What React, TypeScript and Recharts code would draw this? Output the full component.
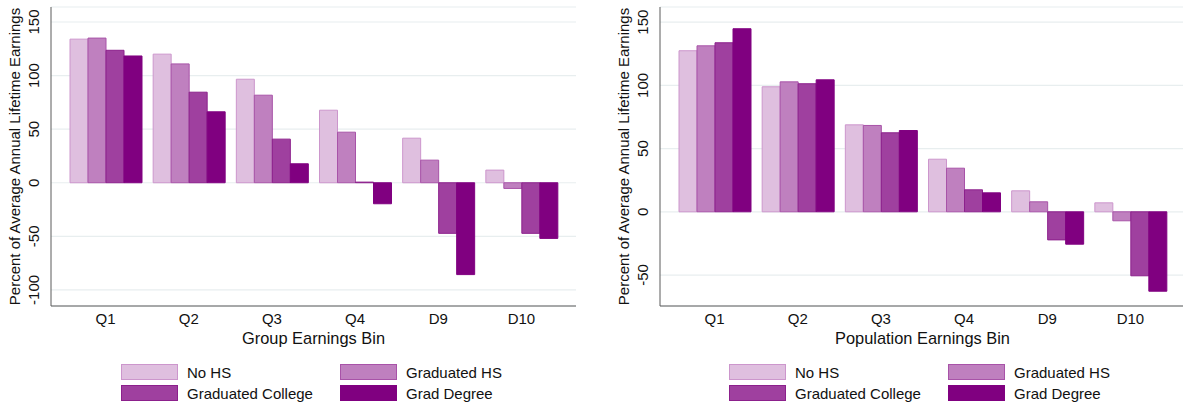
import React from "react";
import { BarChart, Bar, XAxis, YAxis, CartesianGrid, Label } from "recharts";

const categories = ["Q1", "Q2", "Q3", "Q4", "D9", "D10"];
const seriesNames = ["No HS", "Graduated HS", "Graduated College", "Grad Degree"];

// left panel: bins defined within each education group
const groupNoHS = [134, 120, 96.6, 67.7, 41.6, 11.8];
const groupGradHS = [135, 110.9, 81.7, 47.2, 21.1, -5.3];
const groupCollege = [123.6, 84.5, 40.7, 0.6, -47.2, -47.2];
const groupGradDeg = [118.3, 66.2, 17.7, -19.6, -85.7, -51.9];

// right panel: bins defined on the whole population
const popNoHS = [127.4, 98.9, 68.8, 41.6, 16.6, 7.1];
const popGradHS = [131.3, 102.8, 68.3, 34.5, 7.9, -7.1];
const popCollege = [133.7, 101.3, 62.5, 17.4, -22.2, -50.6];
const popGradDeg = [144.8, 104.4, 64.3, 15.0, -25.6, -62.8];

const groupTicks = [-100, -50, 0, 50, 100, 150];
const popTicks = [-50, 0, 50, 100, 150];

const FILLS = ["#dfbfdf", "#bf80bf", "#9f409f", "#800080"];
const STROKES = ["#cc96cc", "#a853a8", "#8c208c", "#800080"];
const FONT = "Arial, 'Liberation Sans', sans-serif";
const TEXT = "#111";
const AXIS = "#5a5a5a";
const GRID = "#e8eeef";
const KEYS = ["noHS", "gradHS", "college", "gradDeg"];

function buildRows(a: number[], b: number[], c: number[], d: number[]) {
  return categories.map((cat, i) => ({ cat, noHS: a[i], gradHS: b[i], college: c[i], gradDeg: d[i] }));
}

const groupData = buildRows(groupNoHS, groupGradHS, groupCollege, groupGradDeg);
const popData = buildRows(popNoHS, popGradHS, popCollege, popGradDeg);

const PLOT_TOP = 7;
const PLOT_BOTTOM = 306;

function YTick(props: any) {
  const { x, y, payload } = props;
  return (
    <text x={x} y={y} transform={`rotate(-90 ${x} ${y})`} textAnchor="middle" fontSize={15} fill={TEXT}>
      {payload.value}
    </text>
  );
}

function Panel({ data, ticks, domain, axisWidth, width, xTitle }: {
  data: any[]; ticks: number[]; domain: [number, number]; axisWidth: number; width: number; xTitle: string;
}) {
  const titleX = axisWidth - 31;
  const midY = (PLOT_TOP + PLOT_BOTTOM) / 2;
  const plotMid = axisWidth + (width - axisWidth) / 2;
  return (
    <BarChart width={width} height={406} data={data} margin={{ top: PLOT_TOP, right: 0, bottom: 0, left: 0 }}
      barCategoryGap={6} barGap={0}>
      <CartesianGrid vertical={false} stroke={GRID} strokeWidth={1.2} />
      <XAxis dataKey="cat" height={100} tickLine={false} tickSize={0} tickMargin={7}
        padding={{ left: 13, right: 13 }} stroke={AXIS} tick={{ fill: TEXT, fontSize: 15 }}>
        <Label content={() => (
          <text x={plotMid} y={344} textAnchor="middle" fontSize={16.4} fill={TEXT}>{xTitle}</text>
        )} />
      </XAxis>
      <YAxis width={axisWidth} domain={domain} ticks={ticks} allowDataOverflow tickLine={false} tickSize={0}
        tickMargin={12} stroke={AXIS} tick={<YTick />} interval={0}>
        <Label content={() => (
          <text x={titleX} y={midY} transform={`rotate(-90 ${titleX} ${midY})`} textAnchor="middle" fontSize={15} fill={TEXT}>
            Percent of Average Annual Lifetime Earnings
          </text>
        )} />
      </YAxis>
      {KEYS.map((k, i) => (
        <Bar key={k} dataKey={k} name={seriesNames[i]} fill={FILLS[i]} stroke={STROKES[i]} strokeWidth={1}
          isAnimationActive={false} />
      ))}
    </BarChart>
  );
}

function LegendBlock({ left, col2 }: { left: number; col2: number }) {
  const item = (i: number, x: number, top: number) => (
    <div key={i} style={{ position: "absolute", left: x, top, display: "flex", alignItems: "center", height: 16 }}>
      <div style={{ width: 55, height: 14, background: FILLS[i], border: `1px solid ${STROKES[i]}` }} />
      <span style={{ marginLeft: 9, fontSize: 15, color: TEXT, whiteSpace: "nowrap" }}>{seriesNames[i]}</span>
    </div>
  );
  return (
    <>
      {item(0, left, 364)}
      {item(1, col2, 364)}
      {item(2, left, 385)}
      {item(3, col2, 385)}
    </>
  );
}

export default function App() {
  return (
    <div style={{ position: "absolute", top: 0, left: 0, width: 1183, height: 406, overflow: "hidden", background: "#fff", fontFamily: FONT }}>
      <div style={{ position: "absolute", left: 0, top: 0 }}>
        <Panel data={groupData} ticks={groupTicks} domain={[-115, 164]} axisWidth={51} width={576} xTitle="Group Earnings Bin" />
      </div>
      <div style={{ position: "absolute", left: 590, top: 0 }}>
        <Panel data={popData} ticks={popTicks} domain={[-74.5, 162]} axisWidth={70} width={595} xTitle="Population Earnings Bin" />
      </div>
      <LegendBlock left={121} col2={340} />
      <LegendBlock left={729} col2={948} />
    </div>
  );
}
